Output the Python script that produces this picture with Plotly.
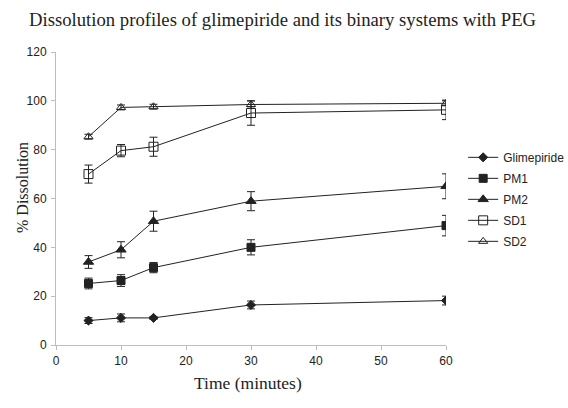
import plotly.graph_objects as go

# Sampling times (minutes)
time_min = [5, 10, 15, 30, 60]

# Mean % dissolved and standard deviations per formulation
glimepiride = [10.0, 11.1, 11.1, 16.4, 18.2]
glimepiride_sd = [1.2, 1.6, 0.6, 1.6, 1.8]

pm1 = [25.2, 26.4, 31.7, 40.0, 48.9]
pm1_sd = [2.2, 2.4, 2.1, 3.1, 4.2]

pm2 = [34.0, 39.0, 50.7, 58.9, 65.0]
pm2_sd = [2.6, 3.3, 4.1, 3.9, 5.1]

sd1 = [70.0, 79.6, 81.2, 95.0, 96.3]
sd1_sd = [3.7, 2.5, 3.9, 5.0, 4.0]

sd2 = [85.3, 97.3, 97.6, 98.5, 99.0]
sd2_sd = [1.0, 1.0, 1.0, 1.5, 1.0]

series = [
    ("Glimepiride", glimepiride, glimepiride_sd, "diamond", 7),
    ("PM1", pm1, pm1_sd, "square", 8),
    ("PM2", pm2, pm2_sd, "triangle-up", 9),
    ("SD1", sd1, sd1_sd, "square-open", 9),
    ("SD2", sd2, sd2_sd, "triangle-up-open", 8),
]

SERIF = "Liberation Serif, Times New Roman, serif"
SANS = "Liberation Sans, Arial, sans-serif"
INK = "#222222"

fig = go.Figure()
for name, vals, err, sym, size in series:
    fig.add_trace(go.Scatter(
        x=time_min, y=vals, name=name, mode="lines+markers",
        legendgroup=name,
        line=dict(color=INK, width=1),
        marker=dict(symbol=sym, size=size, color=INK,
                    line=dict(color=INK, width=1)),
        error_y=dict(type="data", array=err, visible=True,
                     color=INK, thickness=1, width=4),
    ))

axis_common = dict(
    showgrid=False, zeroline=False, showline=True,
    linecolor="#bdbdbd", linewidth=1,
    ticks="outside", ticklen=4, tickcolor="#bdbdbd",
    tickfont=dict(family=SANS, size=12, color=INK),
)

fig.update_layout(
    width=568, height=408,
    margin=dict(l=56, r=122, t=52, b=63, autoexpand=False),
    paper_bgcolor="white", plot_bgcolor="white",
    xaxis=dict(range=[0, 60], tickvals=[0, 10, 20, 30, 40, 50, 60],
               ticklabelstandoff=1, **axis_common),
    yaxis=dict(range=[0, 120], tickvals=[0, 20, 40, 60, 80, 100, 120],
               ticklabelstandoff=2, **axis_common),
    legend=dict(
        x=1.044, y=0.69, xanchor="left", yanchor="top",
        font=dict(family=SANS, size=12, color=INK),
        bgcolor="rgba(0,0,0,0)", itemwidth=30, tracegroupgap=2,
    ),
    showlegend=True,
    annotations=[
        dict(text="Dissolution profiles of glimepiride and its binary systems with PEG",
             xref="paper", yref="paper", x=(282.5 - 56) / 390, y=(345 - 20) / 293,
             xanchor="center", yanchor="middle", showarrow=False,
             font=dict(family=SERIF, size=18.7, color=INK)),
        dict(text="Time (minutes)",
             xref="paper", yref="paper", x=(247.5 - 56) / 390, y=(345 - 383) / 293,
             xanchor="center", yanchor="middle", showarrow=False,
             font=dict(family=SERIF, size=17.5, color=INK)),
        dict(text="% Dissolution", textangle=-90,
             xref="paper", yref="paper", x=(22 - 56) / 390, y=(345 - 188) / 293,
             xanchor="center", yanchor="middle", showarrow=False,
             font=dict(family=SERIF, size=16, color=INK)),
    ],
)

fig.write_html("out.html")
